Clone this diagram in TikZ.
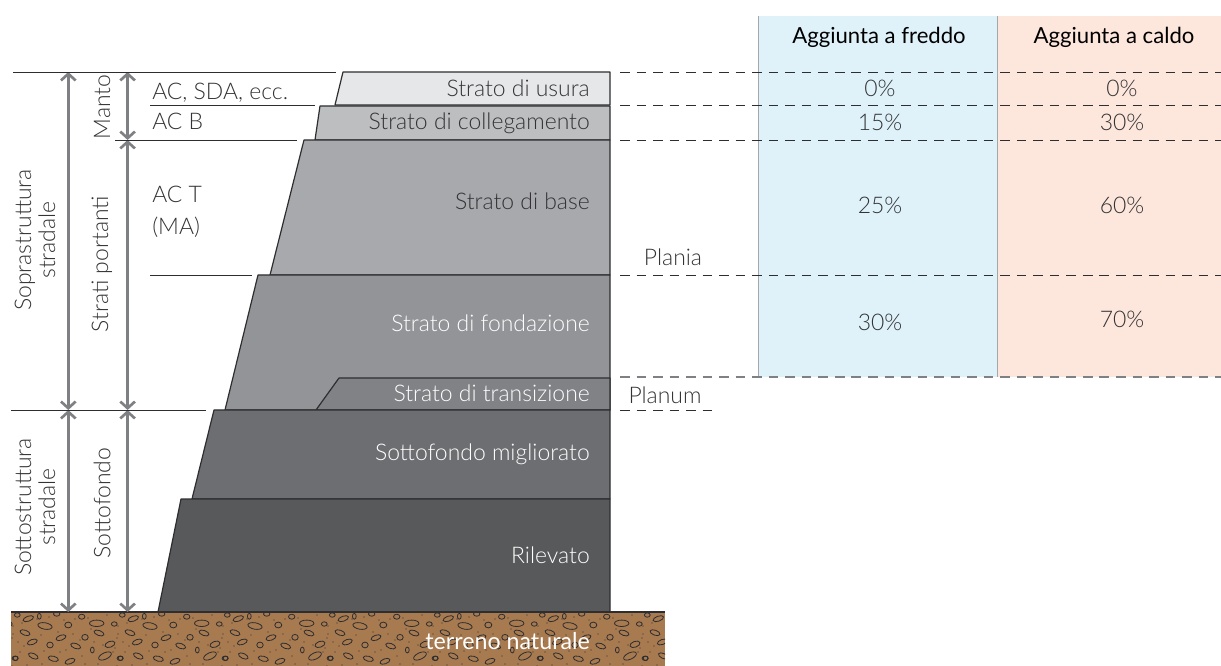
\documentclass[tikz,border=0pt]{standalone}
\usepackage{fontspec}
\setmainfont{Lato Light}
\newfontfamily\headfont{Lato}
\usetikzlibrary{arrows.meta}
\definecolor{cUsura}{HTML}{E6E7E8}
\definecolor{cColl}{HTML}{BCBEC0}
\definecolor{cBase}{HTML}{A7A9AC}
\definecolor{cFond}{HTML}{929497}
\definecolor{cTrans}{HTML}{808285}
\definecolor{cMigl}{HTML}{6D6E71}
\definecolor{cRil}{HTML}{58595B}
\definecolor{cEdge}{HTML}{2E2E30}
\definecolor{cArrow}{HTML}{7F8084}
\definecolor{cBlue}{HTML}{DFF2FA}
\definecolor{cOrange}{HTML}{FDE6DC}
\definecolor{cSoil}{HTML}{A87A50}
\definecolor{cText}{HTML}{333335}
\tikzset{
  x=0.75pt,y=-0.75pt,
  layer/.style={draw=cEdge,line width=0.9pt,line join=round},
  rule/.style={draw=cEdge,line width=0.65pt},
  dashrule/.style={draw=cEdge,line width=0.55pt,dash pattern=on 7.2pt off 5.2pt},
  dashgray/.style={draw=cArrow,line width=0.8pt,dash pattern=on 7.2pt off 5.2pt},
  bigarrow/.style={draw=cArrow,line width=2.4pt,{Straight Barb[length=5pt,width=11pt,line width=2pt]}-{Straight Barb[length=5pt,width=11pt,line width=2pt]}},
  smallarrow/.style={draw=cArrow,line width=2.2pt,{Straight Barb[length=5pt,width=11pt,line width=2pt]}-{Straight Barb[length=5pt,width=11pt,line width=2pt]}},
  txt/.style={inner sep=0pt,text=cText,font=\fontsize{17.2}{18}\selectfont},
  lay/.style={txt,anchor=base east},
  layw/.style={lay,text=white},
  rot/.style={txt,rotate=90,align=center},
  head/.style={inner sep=0pt,text=black,anchor=base,font=\headfont\fontsize{16.6}{19}\selectfont},
  val/.style={txt,anchor=base},
  stone/.style={draw=cEdge,line width=0.6pt},
}
\begin{document}
\begin{tikzpicture}
\useasboundingbox (0,0) rectangle (1221,666);
% table columns
\fill[cBlue] (758,16) rectangle (997,377);
\fill[cOrange] (997,16) rectangle (1221,377);
\draw[draw=cTrans!70,line width=0.7pt] (758,16) -- (758,377);
\draw[draw=cTrans!70,line width=0.7pt] (997,16) -- (997,377);
% soil
\begin{scope}
\clip (11,612) rectangle (665,666);
\fill[cSoil] (11,612) rectangle (665,666);
\foreach \k in {-1,...,6}{
 \begin{scope}[shift={(\k*105,590)}]
 \foreach \a/\b/\r/\s/\t in {
  17.3/25/2.9/2.2/0, 28.3/28.7/5.5/2.5/20, 39.3/26.3/1.9/2.9/0, 56.7/24/3.2/2.2/0, 81.7/26.7/3.2/2.5/0,
  45/36/7.2/3.2/-10, 68.3/35/3.5/2.9/0, 96.7/33.3/7.2/3.2/0, 114.3/34/2.9/2.2/0,
  25/42.7/5.2/2.5/-20, 32.3/52/5.2/2.5/20, 50/55/3.2/2.9/0, 61/47.7/5.2/2.5/20, 85/47.3/3.2/2.9/0, 99/43/5.2/2.5/-20, 75.7/56/5.2/2.5/-20, 110/54.3/5.2/2.9/20,
  92.3/60/1.9/2.9/0, 105/66/6.9/3.2/25, 120.7/68.3/2.5/2.2/0, 33.3/66/5.2/2.5/-25, 53.3/68.7/5.2/2.5/-15, 70/71.3/5.2/2.5/20, 15/68.3/2.9/2.2/0}
  {\draw[stone] (\a,\b) ellipse[x radius=\r,y radius=\s,rotate=\t];}
 \foreach \a/\b in {13/36,22/33,37/29,49/27,64/30,75/29,88/28,107/25,12/48,18/52,24/56,41/45,44/61,58/42,66/60,73/44,80/50,91/39,94/52,103/55,118/44,113/62,20/62,27/75,42/74,60/62,82/66,85/74,98/74,117/76,10/58}
  {\fill[cEdge] (\a,\b) circle[radius=0.6];}
 \end{scope}
}
\end{scope}
% layers
\draw[layer,fill=cUsura] (343,72) -- (610,72) -- (610,105) -- (335,105) -- cycle;
\draw[layer,fill=cColl] (320,106) -- (610,106) -- (610,140) -- (315,140) -- cycle;
\draw[layer,fill=cBase] (304,140) -- (610,140) -- (610,275) -- (270,275) -- cycle;
\draw[layer,fill=cFond] (258,275) -- (610,275) -- (610,410) -- (225,410) -- cycle;
\draw[layer,fill=cTrans] (339,378) -- (610,378) -- (610,410) -- (316,410) -- cycle;
\draw[layer,fill=cMigl] (214,410) -- (610,410) -- (610,499) -- (192,499) -- cycle;
\draw[layer,fill=cRil] (181,499) -- (610,499) -- (610,612) -- (158,612) -- cycle;
\draw[draw=cEdge,line width=1.3pt] (11,612) -- (665,612);
% coordinates
\coordinate (t1) at (13,72); \coordinate (t2) at (336,72);
\coordinate (m1) at (150,105); \coordinate (m2) at (315,105);
\coordinate (b1) at (115,140); \coordinate (b2) at (297,140);
\coordinate (p1) at (150,275); \coordinate (p2) at (252,275);
\coordinate (s1) at (11,410); \coordinate (s2) at (206,410);
\coordinate (a1) at (68.3,72); \coordinate (a2) at (68.3,410); \coordinate (a3) at (68.3,612);
\coordinate (c1) at (127.6,72); \coordinate (c2) at (127.6,140); \coordinate (c3) at (127.6,410); \coordinate (c4) at (127.6,612);
\draw[bigarrow] (a1) -- (a2);
\draw[bigarrow] (a2) -- (a3);
\draw[smallarrow] (c1) -- (c2);
\draw[smallarrow] (c2) -- (c3);
\draw[smallarrow] (c3) -- (c4);
\draw[rule] (t1) -- (t2);
\draw[rule] (m1) -- (m2);
\draw[rule] (b1) -- (b2);
\draw[rule] (p1) -- (p2);
\draw[rule] (s1) -- (s2);
% dashed levels
\coordinate (d1) at (620,72); \coordinate (e1) at (1221,72);
\coordinate (d2) at (620,105); \coordinate (e2) at (1221,105);
\coordinate (d3) at (620,140); \coordinate (e3) at (1221,140);
\coordinate (d4) at (620,275); \coordinate (e4) at (1221,275);
\coordinate (d5) at (620,377); \coordinate (e5) at (1221,377);
\coordinate (d6) at (620,410); \coordinate (e6) at (719,410);
\draw[dashrule] (d1) -- (e1);
\draw[dashrule] (d2) -- (e2);
\draw[dashrule] (d3) -- (e3);
\draw[dashrule] (d4) -- (e4);
\draw[dashgray] (d5) -- (e5);
\draw[dashrule] (d6) -- (e6);
% layer labels
\node[lay] (l1) at (590,97) {Strato di usura};
\node[lay] (l2) at (590,130) {Strato di collegamento};
\node[lay] (l3) at (590,210) {Strato di base};
\node[layw] (l4) at (590,332) {Strato di fondazione};
\node[layw] (l5) at (590,402) {Strato di transizione};
\node[layw] (l6) at (590,460) {Sottofondo migliorato};
\node[layw] (l7) at (590,563) {Rilevato};
\node[layw,font=\headfont\fontsize{17.4}{18}\selectfont] (l8) at (590,649) {terreno naturale};
% left labels
\node[txt,anchor=base west] (n1) at (152,100) {AC, SDA, ecc.};
\node[txt,anchor=base west] (n2) at (152,130) {AC B};
\node[txt,anchor=base west] (n3) at (152,203) {AC T};
\node[txt,anchor=base west] (n4) at (152,235) {(MA)};
\node[rot] (r1) at (35,240) {Soprastruttura\\stradale};
\node[rot] (r2) at (35,507) {Sottostruttura\\stradale};
\node[rot] (r3) at (102,107) {Manto};
\node[rot] (r4) at (102,264) {Strati portanti};
\node[rot] (r5) at (102,503) {Sottofondo};
% right labels
\node[txt,anchor=base] (pl) at (673,266) {Plania};
\node[txt,anchor=base] (pm) at (665,404) {Planum};
\node[head] (h1) at (879,44) {Aggiunta a freddo};
\node[head] (h2) at (1114,44) {Aggiunta a caldo};
\node[val] (v1) at (880,97) {0\%};
\node[val] (v2) at (1122,97) {0\%};
\node[val] (v3) at (880,131) {15\%};
\node[val] (v4) at (1122,131) {30\%};
\node[val] (v5) at (880,214) {25\%};
\node[val] (v6) at (1122,214) {60\%};
\node[val] (v7) at (880,331) {30\%};
\node[val] (v8) at (1122,328) {70\%};
\end{tikzpicture}
\end{document}
